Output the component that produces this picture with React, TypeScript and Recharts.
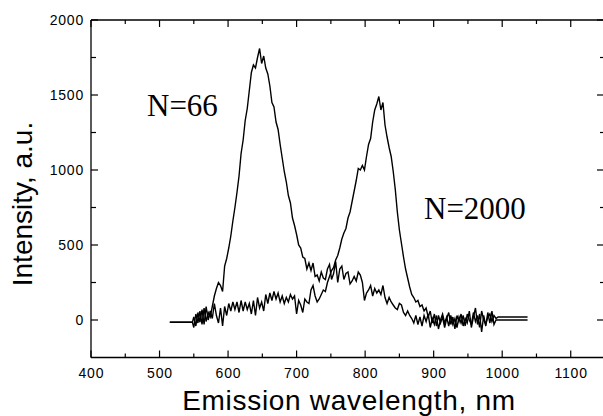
import React from 'react';
import { LineChart, Line, XAxis, YAxis } from 'recharts';

const wavelengths = [
  515, 548,
  550, 553, 556, 559, 562, 565, 568, 571, 574, 577,
  580, 583, 586, 589, 592, 595, 598, 601, 604, 607,
  610, 613, 616, 619, 622, 625, 628, 631, 634, 637,
  640, 643, 646, 649, 652, 655, 658, 661, 664, 667,
  670, 673, 676, 679, 682, 685, 688, 691, 694, 697,
  700, 703, 706, 709, 712, 715, 718, 721, 724, 727,
  730, 733, 736, 739, 742, 745, 748, 751, 754, 757,
  760, 763, 766, 769, 772, 775, 778, 781, 784, 787,
  790, 793, 796, 799, 802, 805, 808, 811, 814, 817,
  820, 823, 826, 829, 832, 835, 838, 841, 844, 847,
  850, 853, 856, 859, 862, 865, 868, 871, 874, 877,
  880, 883, 886, 889, 892, 895, 898, 901, 904, 907,
  910, 913, 916, 919, 922, 925, 928, 931, 934, 937,
  940, 943, 946, 949, 952, 955, 958, 961, 964, 967,
  970, 973, 976, 979, 982, 985, 988, 991,
  994, 1037,
];

const intensityN66 = [
  -15, -15,
  -50, 40, -20, 60, -30, 80, -10, 50, 20, 90,
  160, 210, 250, 230, 190, 360, 410, 480, 560, 660,
  750, 850, 960, 1110, 1200, 1330, 1410, 1530, 1650, 1700,
  1680, 1750, 1810, 1710, 1760, 1680, 1640, 1560, 1450, 1420,
  1320, 1270, 1170, 1080, 990, 920, 830, 780, 680, 630,
  570, 500, 480, 420, 410, 340, 380, 330, 380, 290,
  300, 260, 320, 280, 270, 340, 370, 270, 310, 390,
  250, 340, 360, 270, 310, 320, 240, 260, 290, 260,
  320, 300, 250, 130, 180, 200, 230, 160, 210, 180,
  200, 170, 230, 150, 110, 150, 120, 100, 80, 70,
  110, 100, 50, 30, 60, 30, 10, -20, 30, -30,
  20, -40, 30, -10, 40, -50, 10, -30, 30, -60,
  0, 40, -20, 20, -40, 30, -30, 10, -50, 20,
  -20, 30, -40, 40, 0, -30, 50, -10, 30, -50,
  60, 0, -30, 20, 40, -10, 30, 10,
  20, 20,
];

const intensityN2000 = [
  -15, -15,
  20, -40, 50, -15, 70, -30, 90, 0, 60, 10,
  110, 30, -20, 80, -40, 90, 30, 110, 60, 120,
  70, 120, 50, 130, 60, 120, 70, 110, 40, 130,
  30, 150, 80, 120, 60, 170, 110, 180, 130, 190,
  140, 180, 120, 160, 110, 150, 120, 170, 140, 160,
  40, 130, 100, 50, 140, 120, 110, 200, 230, 160,
  120, 140, 170, 200, 190, 250, 290, 330, 350, 400,
  430, 480, 540, 580, 610, 680, 720, 790, 860, 930,
  1010, 1000, 1030, 1000, 1090, 1170, 1210, 1320, 1400, 1440,
  1490, 1400, 1450, 1300, 1220, 1150, 1090, 990, 870, 720,
  600, 510, 420, 340, 280, 220, 170, 150, 120, 130,
  90, 100, 60, 80, 20, 60, -20, 40, -40, 30,
  -20, 20, -50, 10, 50, -30, 20, -60, 30, -10,
  40, -40, 10, -20, 60, -50, 20, 80, -30, 40,
  -80, 30, -40, 50, -20, 60, -30, 0,
  0, 0,
];

const xTicks = [400, 450, 500, 550, 600, 650, 700, 750, 800, 850, 900, 950, 1000, 1050, 1100];
const yTicks = [0, 250, 500, 750, 1000, 1250, 1500, 1750, 2000];
const xDomain = [400, 1150];
const yDomain = [-250, 2000];

const annotations = [
  { text: 'N=66', x: 147, y: 116 },
  { text: 'N=2000', x: 424, y: 219 },
];

const data = wavelengths.map((w, i) => ({ w, n66: intensityN66[i], n2000: intensityN2000[i] }));

const SANS = '"Liberation Sans", Arial, Helvetica, sans-serif';
const SERIF = '"Liberation Serif", "Times New Roman", serif';

const BottomTick = (props: any) => {
  const { x, y, payload } = props;
  const v = payload.value;
  const major = v % 100 === 0;
  return (
    <g>
      <line x1={x} y1={y} x2={x} y2={y - (major ? 7 : 4)} stroke="#000" strokeWidth={1.2} />
      {major && (
        <text x={x + 0.4} y={y + 20.5} textAnchor="middle" fontFamily={SANS} fontSize={14} letterSpacing={0.8} fill="#000">
          {v}
        </text>
      )}
    </g>
  );
};

const TopTick = (props: any) => {
  const { x, y, payload } = props;
  const major = payload.value % 100 === 0;
  return <line x1={x} y1={y} x2={x} y2={y + (major ? 7 : 4)} stroke="#000" strokeWidth={1.2} />;
};

const LeftTick = (props: any) => {
  const { x, y, payload } = props;
  const v = payload.value;
  const major = v % 500 === 0;
  return (
    <g>
      <line x1={x} y1={y} x2={x + (major ? 7 : 5)} y2={y} stroke="#000" strokeWidth={1.2} />
      {major && (
        <text x={x - 7} y={y + 5} textAnchor="end" fontFamily={SANS} fontSize={14} letterSpacing={0.8} fill="#000">
          {v}
        </text>
      )}
    </g>
  );
};

const RightTick = (props: any) => {
  const { x, y, payload } = props;
  const major = payload.value % 500 === 0;
  return <line x1={x} y1={y} x2={x - (major ? 8 : 5)} y2={y} stroke="#000" strokeWidth={1.2} />;
};

const axisLine = { stroke: '#000', strokeWidth: 1.3 };

export default function App() {
  return (
    <div style={{ position: 'absolute', left: 0, top: 0, width: 603, height: 416, overflow: 'hidden', background: '#fff' }}>
      <LineChart width={620} height={416} data={data} margin={{ top: 19, right: 14, bottom: 8.5, left: 11 }}>
        <XAxis
          xAxisId="b"
          dataKey="w"
          type="number"
          domain={xDomain}
          ticks={xTicks}
          interval={0}
          orientation="bottom"
          height={50}
          tickSize={0}
          tickMargin={0}
          tickLine={false}
          axisLine={axisLine}
          tick={<BottomTick />}
          allowDataOverflow
        />
        <XAxis
          xAxisId="t"
          dataKey="w"
          type="number"
          domain={xDomain}
          ticks={xTicks}
          interval={0}
          orientation="top"
          height={1}
          tickSize={0}
          tickMargin={0}
          tickLine={false}
          axisLine={axisLine}
          tick={<TopTick />}
          allowDataOverflow
        />
        <YAxis
          yAxisId="l"
          type="number"
          domain={yDomain}
          ticks={yTicks}
          interval={0}
          orientation="left"
          width={80}
          tickSize={0}
          tickMargin={0}
          tickLine={false}
          axisLine={axisLine}
          tick={<LeftTick />}
          allowDataOverflow
        />
        <YAxis
          yAxisId="r"
          type="number"
          domain={yDomain}
          ticks={yTicks}
          interval={0}
          orientation="right"
          width={1}
          tickSize={0}
          tickMargin={0}
          tickLine={false}
          axisLine={axisLine}
          tick={<RightTick />}
          allowDataOverflow
        />
        <Line xAxisId="b" yAxisId="l" type="linear" dataKey="n66" stroke="#000" strokeWidth={1.4} dot={false} isAnimationActive={false} />
        <Line xAxisId="b" yAxisId="l" type="linear" dataKey="n2000" stroke="#000" strokeWidth={1.4} dot={false} isAnimationActive={false} />
      </LineChart>
      <svg width={603} height={416} style={{ position: 'absolute', left: 0, top: 0, pointerEvents: 'none' }}>
        <text x={349} y={409.5} textAnchor="middle" fontFamily={SANS} fontSize={28} letterSpacing={0.7} fill="#000">
          Emission wavelength, nm
        </text>
        <text x={32} y={204} textAnchor="middle" fontFamily={SANS} fontSize={28} fill="#000" transform="rotate(-90, 32, 204)">
          Intensity, a.u.
        </text>
        {annotations.map((a) => (
          <text key={a.text} x={a.x} y={a.y} fontFamily={SERIF} fontSize={31} fill="#000">
            {a.text}
          </text>
        ))}
      </svg>
    </div>
  );
}
